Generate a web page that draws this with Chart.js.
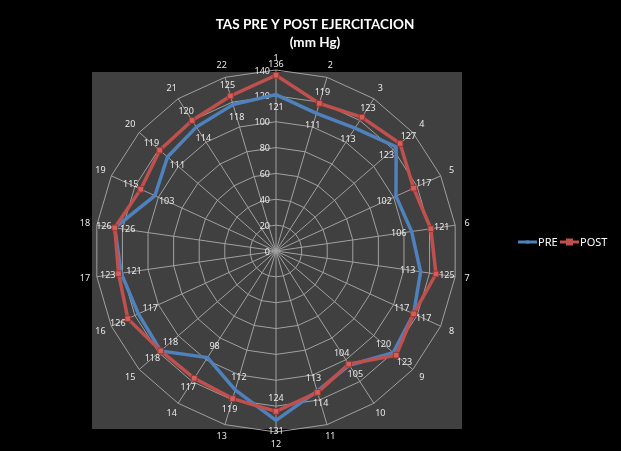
<!DOCTYPE html>
<html>
<head>
<meta charset="utf-8">
<script src="https://cdn.jsdelivr.net/npm/chart.js@4.4.1/dist/chart.umd.min.js"></script>
<style>
  html, body { margin: 0; padding: 0; background: #000; }
  canvas { display: block; }
</style>
</head>
<body>
<canvas id="c" width="621" height="451"></canvas>
<script>
// Sessions 1..22, systolic pressure before and after exercise (mm Hg)
const categories = ['1','2','3','4','5','6','7','8','9','10','11','12','13','14','15','16','17','18','19','20','21','22'];
const pre  = [121,111,113,123,102,106,113,117,120,105,113,131,112, 98,118,117,121,126,103,111,114,118];
const post = [136,119,123,127,117,121,125,117,123,104,114,124,119,117,118,126,123,126,115,119,120,125];
const seriesNames = ['PRE', 'POST'];
const titleLines = ['TAS PRE Y POST EJERCITACION', '(mm Hg)'];
const scaleMin = 0, scaleMax = 140, scaleStep = 20;

const BLUE = '#4f81bd';
const RED = '#c0504d';
const LABEL_COLOR = '#e8e8e8';
const GRID_COLOR = '#a0a0a0';

const decor = {
  id: 'decor',
  beforeDraw(chart) {
    const ctx = chart.ctx;
    ctx.save();
    ctx.fillStyle = '#000';
    ctx.fillRect(0, 0, chart.width, chart.height);
    ctx.fillStyle = '#404040';
    ctx.fillRect(92, 72, 370, 357);
    ctx.restore();
  },
  beforeDatasetsDraw(chart) {
    // ring values, right-aligned beside the vertical spoke
    const r = chart.scales.r;
    const ctx = chart.ctx;
    ctx.save();
    ctx.font = '9px "Noto Sans"';
    ctx.fillStyle = LABEL_COLOR;
    ctx.textAlign = 'right';
    ctx.textBaseline = 'middle';
    r.ticks.forEach(t => {
      const d = r.getDistanceFromCenterForValue(t.value);
      ctx.fillText(String(t.value), r.xCenter - 6, r.yCenter - d + 1);
    });
    // category numbers outside the outer ring
    ctx.textAlign = 'center';
    categories.forEach((c, i) => {
      const p = r.getPointPosition(i, r.drawingArea + 12);
      ctx.fillText(c, p.x, p.y);
    });
    ctx.restore();
  },
  afterDatasetsDraw(chart) {
    // value labels: the larger of the pair sits outside its point, the other inside
    const r = chart.scales.r;
    const ctx = chart.ctx;
    ctx.save();
    ctx.font = '9px "Noto Sans"';
    ctx.fillStyle = LABEL_COLOR;
    ctx.textAlign = 'center';
    ctx.textBaseline = 'middle';
    categories.forEach((c, i) => {
      const a = pre[i], b = post[i];
      const postOut = b >= a;
      const place = (v, out) => {
        const d = r.getDistanceFromCenterForValue(v) + (out ? 11 : -13);
        const p = r.getPointPosition(i, d);
        ctx.fillText(String(v), p.x, p.y);
      };
      place(a, !postOut);
      place(b, postOut);
    });
    ctx.restore();
  },
  afterDraw(chart) {
    const ctx = chart.ctx;
    ctx.save();
    // title
    ctx.fillStyle = '#fff';
    ctx.textAlign = 'center';
    ctx.textBaseline = 'middle';
    ctx.font = 'bold 13.5px Lato';
    ctx.fillText(titleLines[0], 315, 25);
    ctx.fillText(titleLines[1], 315, 43);
    // legend
    const items = [
      { name: seriesNames[0], color: BLUE, x: 518, mark: 3 },
      { name: seriesNames[1], color: RED, x: 560, mark: 7 }
    ];
    const y = 242;
    ctx.font = '11px "Noto Sans"';
    ctx.textAlign = 'left';
    items.forEach(it => {
      ctx.strokeStyle = it.color;
      ctx.lineWidth = 3;
      ctx.beginPath();
      ctx.moveTo(it.x, y);
      ctx.lineTo(it.x + 19, y);
      ctx.stroke();
      ctx.fillStyle = it.color;
      ctx.fillRect(it.x + 9.5 - it.mark / 2, y - it.mark / 2, it.mark, it.mark);
      ctx.fillStyle = '#fff';
      ctx.fillText(it.name, it.x + 20, y + 1);
    });
    ctx.restore();
  }
};

new Chart(document.getElementById('c'), {
  type: 'radar',
  data: {
    labels: categories,
    datasets: [
      {
        label: seriesNames[0],
        data: pre,
        borderColor: BLUE,
        borderWidth: 3.5,
        backgroundColor: 'transparent',
        fill: false,
        pointRadius: 0,
        order: 1
      },
      {
        label: seriesNames[1],
        data: post,
        borderColor: RED,
        borderWidth: 3.5,
        backgroundColor: 'transparent',
        fill: false,
        pointStyle: 'rect',
        pointRadius: 4,
        pointBackgroundColor: '#d0605c',
        pointBorderColor: '#9e3431',
        pointBorderWidth: 1,
        order: 0
      }
    ]
  },
  options: {
    responsive: false,
    animation: false,
    layout: { padding: { left: 95, right: 164, top: 70, bottom: 19 } },
    plugins: {
      legend: { display: false },
      title: { display: false },
      tooltip: { enabled: false }
    },
    scales: {
      r: {
        min: scaleMin,
        max: scaleMax,
        ticks: { stepSize: scaleStep, display: false },
        grid: { color: GRID_COLOR, lineWidth: 1, circular: false },
        angleLines: { color: GRID_COLOR, lineWidth: 1 },
        pointLabels: { display: false }
      }
    }
  },
  plugins: [decor]
});
</script>
</body>
</html>
